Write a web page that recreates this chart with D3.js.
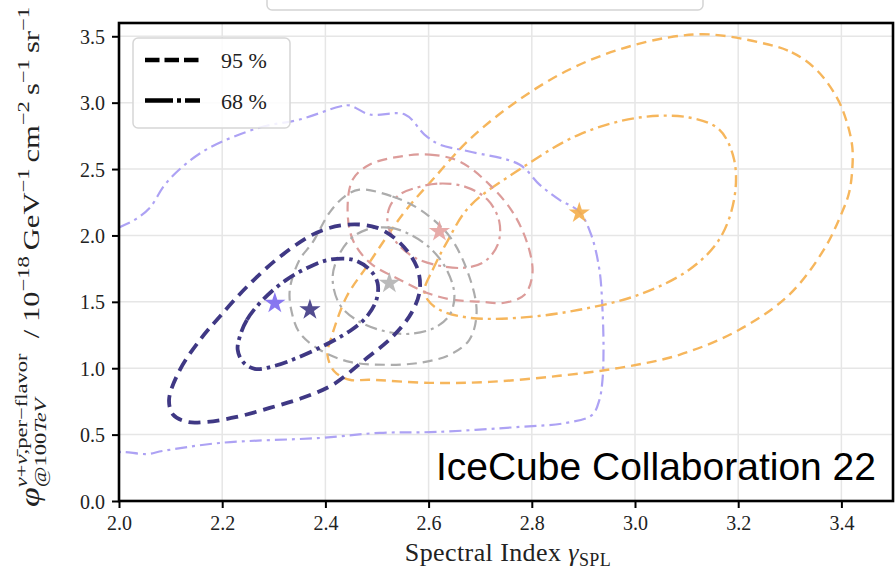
<!DOCTYPE html>
<html>
<head>
<meta charset="utf-8">
<script src="https://cdn.jsdelivr.net/npm/d3@7"></script>
<style>
  body { margin: 0; background: #fff; }
  .serif { font-family: "Liberation Serif", "DejaVu Serif", serif; }
  .sans { font-family: "Liberation Sans", Arial, sans-serif; }
</style>
</head>
<body>
<svg id="chart" width="896" height="573"></svg>
<script>
// ---- axis ticks ----
const xTicks = [2.0, 2.2, 2.4, 2.6, 2.8, 3.0, 3.2, 3.4];
const yTicks = [0.0, 0.5, 1.0, 1.5, 2.0, 2.5, 3.0, 3.5];
const levelLabels = ["95 %", "68 %"];

// ---- confidence contours, [spectral index, flux] ----
const purple68 = [[1.973,2.006],[2.0,2.059],[2.031,2.119],[2.060,2.210],[2.089,2.383],[2.128,2.534],[2.176,2.662],[2.273,2.813],[2.350,2.873],[2.428,2.971],[2.447,2.979],[2.486,2.911],[2.554,2.911],[2.592,2.760],[2.621,2.685],[2.679,2.632],[2.776,2.534],[2.815,2.383],[2.853,2.270],[2.892,2.179],[2.915,2.006],[2.931,1.742],[2.937,1.440],[2.939,1.139],[2.937,0.913],[2.931,0.762],[2.917,0.649],[2.867,0.588],[2.776,0.558],[2.615,0.520],[2.505,0.513],[2.389,0.475],[2.195,0.437],[2.085,0.377],[2.054,0.354],[2.008,0.370],[1.973,0.370]];

const orange95 = [[3.241,3.454],[3.304,3.379],[3.351,3.250],[3.390,3.047],[3.409,2.873],[3.421,2.670],[3.421,2.496],[3.415,2.323],[3.401,2.172],[3.366,1.893],[3.299,1.554],[3.202,1.290],[3.086,1.101],[2.970,1.003],[2.853,0.943],[2.718,0.897],[2.602,0.890],[2.486,0.913],[2.447,0.913],[2.418,0.973],[2.404,1.101],[2.412,1.237],[2.441,1.538],[2.480,1.765],[2.519,1.991],[2.557,2.195],[2.608,2.421],[2.679,2.722],[2.776,3.024],[2.873,3.250],[2.970,3.401],[3.066,3.492],[3.144,3.514]];
const orange68 = [[2.592,1.591],[2.608,1.742],[2.635,1.946],[2.679,2.217],[2.776,2.496],[2.892,2.760],[3.008,2.888],[3.105,2.888],[3.163,2.798],[3.192,2.572],[3.192,2.270],[3.163,1.968],[3.105,1.742],[3.008,1.554],[2.892,1.440],[2.776,1.380],[2.679,1.380],[2.621,1.440],[2.598,1.516]];

const pink95 = [[2.544,2.594],[2.602,2.609],[2.660,2.557],[2.718,2.383],[2.766,2.157],[2.795,1.893],[2.801,1.704],[2.786,1.554],[2.747,1.493],[2.699,1.501],[2.646,1.516],[2.596,1.569],[2.544,1.667],[2.486,1.795],[2.453,1.968],[2.443,2.195],[2.453,2.421],[2.486,2.534]];
const pink68 = [[2.577,2.360],[2.621,2.391],[2.670,2.368],[2.714,2.270],[2.737,2.104],[2.734,1.931],[2.708,1.802],[2.670,1.757],[2.621,1.772],[2.573,1.833],[2.538,1.946],[2.521,2.081],[2.524,2.210],[2.544,2.308]];

const gray95 = [[2.466,2.345],[2.530,2.293],[2.583,2.195],[2.641,1.991],[2.679,1.689],[2.693,1.418],[2.679,1.214],[2.641,1.101],[2.583,1.041],[2.515,1.026],[2.447,1.048],[2.389,1.139],[2.350,1.267],[2.335,1.418],[2.331,1.591],[2.350,1.817],[2.375,1.946],[2.408,2.172],[2.437,2.293]];
const gray68 = [[2.480,2.044],[2.524,2.059],[2.557,2.021],[2.602,1.908],[2.635,1.742],[2.650,1.554],[2.641,1.403],[2.612,1.305],[2.563,1.259],[2.519,1.275],[2.466,1.350],[2.428,1.478],[2.414,1.667],[2.422,1.817],[2.447,1.968]];

const navy95 = [[2.097,0.762],[2.118,0.988],[2.157,1.214],[2.195,1.388],[2.248,1.614],[2.312,1.840],[2.383,2.021],[2.441,2.081],[2.499,2.059],[2.544,1.946],[2.577,1.765],[2.583,1.591],[2.567,1.418],[2.530,1.237],[2.476,1.063],[2.414,0.875],[2.356,0.777],[2.292,0.701],[2.228,0.633],[2.170,0.596],[2.132,0.596],[2.105,0.649]];
const navy68 = [[2.234,1.237],[2.248,1.365],[2.279,1.516],[2.325,1.667],[2.370,1.765],[2.408,1.817],[2.453,1.817],[2.486,1.742],[2.501,1.644],[2.499,1.516],[2.480,1.388],[2.451,1.290],[2.408,1.192],[2.350,1.086],[2.302,1.018],[2.263,0.995],[2.240,1.048],[2.230,1.139]];

// ---- best-fit points ----
const starNames = ["purple", "orange", "pink", "gray", "navy"];
const starX = [2.302, 2.892, 2.621, 2.524, 2.370];
const starY = [1.49, 2.17, 2.03, 1.64, 1.44];

// ---- styling ----
const palette = {
  purple: { line: "#ada2f4", star: "#7b68ee", width: 2.2 },
  orange: { line: "#f6b65c", star: "#f4ad4a", width: 2.4 },
  pink:   { line: "#dc9c9a", star: "#e4a2a0", width: 2.2 },
  gray:   { line: "#acacac", star: "#b3b3b3", width: 2.2 },
  navy:   { line: "#3f3884", star: "#3f3884", width: 3.8 }
};

const contours = [
  { name: "purple", level: "68", pts: purple68 },
  { name: "orange", level: "95", pts: orange95 },
  { name: "orange", level: "68", pts: orange68 },
  { name: "pink",   level: "95", pts: pink95 },
  { name: "pink",   level: "68", pts: pink68 },
  { name: "gray",   level: "95", pts: gray95 },
  { name: "gray",   level: "68", pts: gray68 },
  { name: "navy",   level: "95", pts: navy95 },
  { name: "navy",   level: "68", pts: navy68 }
];

const svg = d3.select("#chart");
const W = 896, H = 573;
const m = { left: 119, top: 23, right: 3, bottom: 72 };
const x = d3.scaleLinear().domain([2.0, 3.5]).range([m.left, W - m.right]);
const y = d3.scaleLinear().domain([0, 3.6]).range([H - m.bottom, m.top]);

// legend box of the panel above, only its lower edge visible
svg.append("rect")
  .attr("x", 267).attr("y", -30).attr("width", 436).attr("height", 40).attr("rx", 5)
  .attr("fill", "#fff").attr("stroke", "#d4d4d4").attr("stroke-width", 1.5);

svg.append("clipPath").attr("id", "plotclip")
  .append("rect")
  .attr("x", x(2.0)).attr("y", y(3.6))
  .attr("width", x(3.5) - x(2.0)).attr("height", y(0) - y(3.6));

// grid
const grid = svg.append("g");
grid.selectAll("line.gx").data(xTicks).join("line")
  .attr("x1", d => x(d)).attr("x2", d => x(d))
  .attr("y1", y(0)).attr("y2", y(3.6))
  .attr("stroke", "#e6e6e6").attr("stroke-width", 1.5);
grid.selectAll("line.gy").data(yTicks).join("line")
  .attr("x1", x(2.0)).attr("x2", x(3.5))
  .attr("y1", d => y(d)).attr("y2", d => y(d))
  .attr("stroke", "#e6e6e6").attr("stroke-width", 1.5);

// contours
const line = d3.line()
  .x(d => x(d[0])).y(d => y(d[1]))
  .curve(d3.curveCatmullRomClosed.alpha(0.5));

function dashFor(name, level) {
  if (name === "navy") return level === "95" ? "12,7" : "13,5,3.5,5";
  return level === "95" ? "10,6" : "12,5,3,5";
}

const cg = svg.append("g").attr("clip-path", "url(#plotclip)");
cg.selectAll("path.contour").data(contours).join("path")
  .attr("class", "contour")
  .attr("d", d => line(d.pts))
  .attr("fill", "none")
  .attr("stroke", d => palette[d.name].line)
  .attr("stroke-width", d => palette[d.name].width)
  .attr("stroke-dasharray", d => dashFor(d.name, d.level))
  .attr("stroke-linecap", "butt");

// stars
const star = d3.symbol().type(d3.symbolStar).size(140);
cg.selectAll("path.star").data(starNames).join("path")
  .attr("class", "star")
  .attr("d", star)
  .attr("transform", (d, i) => `translate(${x(starX[i])},${y(starY[i])})`)
  .attr("fill", d => palette[d].star)
  .attr("fill-opacity", 0.9);

// axes
const xAxis = d3.axisBottom(x).tickValues(xTicks).tickFormat(d3.format(".1f")).tickSize(7).tickSizeOuter(0);
const yAxis = d3.axisLeft(y).tickValues(yTicks).tickFormat(d3.format(".1f")).tickSize(7).tickSizeOuter(0);

const gx = svg.append("g").attr("transform", `translate(0,${y(0)})`).call(xAxis);
gx.select(".domain").remove();
gx.selectAll(".tick line").attr("stroke", "#000").attr("stroke-width", 2);
gx.selectAll(".tick text").attr("class", "serif").attr("font-size", 20).attr("fill", "#222")
  .attr("dy", "0.95em");

const gy = svg.append("g").attr("transform", `translate(${x(2.0)},0)`).call(yAxis);
gy.select(".domain").remove();
gy.selectAll(".tick line").attr("stroke", "#000").attr("stroke-width", 2);
gy.selectAll(".tick text").attr("class", "serif").attr("font-size", 20).attr("fill", "#222")
  .attr("x", -14).attr("dy", "0.35em");

// frame
svg.append("rect")
  .attr("x", x(2.0)).attr("y", y(3.6))
  .attr("width", x(3.5) - x(2.0)).attr("height", y(0) - y(3.6))
  .attr("fill", "none").attr("stroke", "#000").attr("stroke-width", 2.6);

// legend
const lg = svg.append("g");
lg.append("rect").attr("x", 133).attr("y", 38).attr("width", 157).attr("height", 90).attr("rx", 5)
  .attr("fill", "#fff").attr("fill-opacity", 0.85).attr("stroke", "#d6d6d6").attr("stroke-width", 1.5);
const legendDash = ["14.5,5", "28,4,4,4"];
levelLabels.forEach((lab, i) => {
  const yy = 60 + i * 40.5;
  lg.append("line").attr("x1", 145).attr("x2", 200).attr("y1", yy).attr("y2", yy)
    .attr("stroke", "#000").attr("stroke-width", 4.5).attr("stroke-dasharray", legendDash[i]);
  lg.append("text").attr("class", "serif").attr("x", 221).attr("y", yy + 8)
    .attr("font-size", 22).attr("fill", "#222").text(lab);
});

// annotation
svg.append("text").attr("class", "sans").attr("x", 876).attr("y", 480).attr("text-anchor", "end")
  .attr("font-size", 39).attr("fill", "#000")
  .text("IceCube Collaboration 22");

// x label
const xl = svg.append("text").attr("class", "serif").attr("x", 508).attr("y", 561).attr("text-anchor", "middle")
  .attr("font-size", 26).attr("letter-spacing", 0.4).attr("fill", "#222");
xl.append("tspan").text("Spectral Index ");
xl.append("tspan").attr("font-style", "italic").text("γ");
xl.append("tspan").attr("font-size", 18).attr("dy", 5).text("SPL");

// y label: runs laid out along the rotated baseline, then stretched to span the axis
const yl = svg.append("g").attr("transform", "translate(39,507) rotate(-90)").attr("fill", "#222");
const ylInner = yl.append("g");
const runs = [
  { t: "φ", s: 27, dy: 0, it: true },
  { stack: [
      { parts: [{ t: "ν", it: true }, { t: "+" }, { t: "ν̄", it: true }, { t: ",per−flavor" }], s: 17, dy: -12 },
      { parts: [{ t: "@100" }, { t: "TeV", it: true }], s: 17, dy: 7 }
  ] },
  { t: "  / 10", s: 23, dy: 0 },
  { t: "−18", s: 17, dy: -10 },
  { t: "\u2009GeV", s: 23, dy: 0 },
  { t: "−1", s: 17, dy: -10 },
  { t: "\u2009cm", s: 23, dy: 0 },
  { t: "−2", s: 17, dy: -10 },
  { t: "\u2009s", s: 23, dy: 0 },
  { t: "−1", s: 17, dy: -10 },
  { t: "\u2009sr", s: 23, dy: 0 },
  { t: "−1", s: 17, dy: -10 }
];
let cx = 0;
function put(parts, s, dy, at) {
  const t = ylInner.append("text").attr("class", "serif").attr("x", at).attr("y", dy)
    .attr("font-size", s).style("white-space", "pre");
  parts.forEach(p => t.append("tspan").attr("font-style", p.it ? "italic" : "normal").text(p.t));
  return t.node().getComputedTextLength();
}
runs.forEach(r => {
  if (r.stack) {
    let w = 0;
    r.stack.forEach(st => { w = Math.max(w, put(st.parts, st.s, st.dy, cx)); });
    cx += w;
  } else {
    cx += put([{ t: r.t, it: r.it }], r.s, r.dy, cx);
  }
});
const targetLen = 500;
ylInner.attr("transform", `scale(${targetLen / cx},1)`);
</script>
</body>
</html>
